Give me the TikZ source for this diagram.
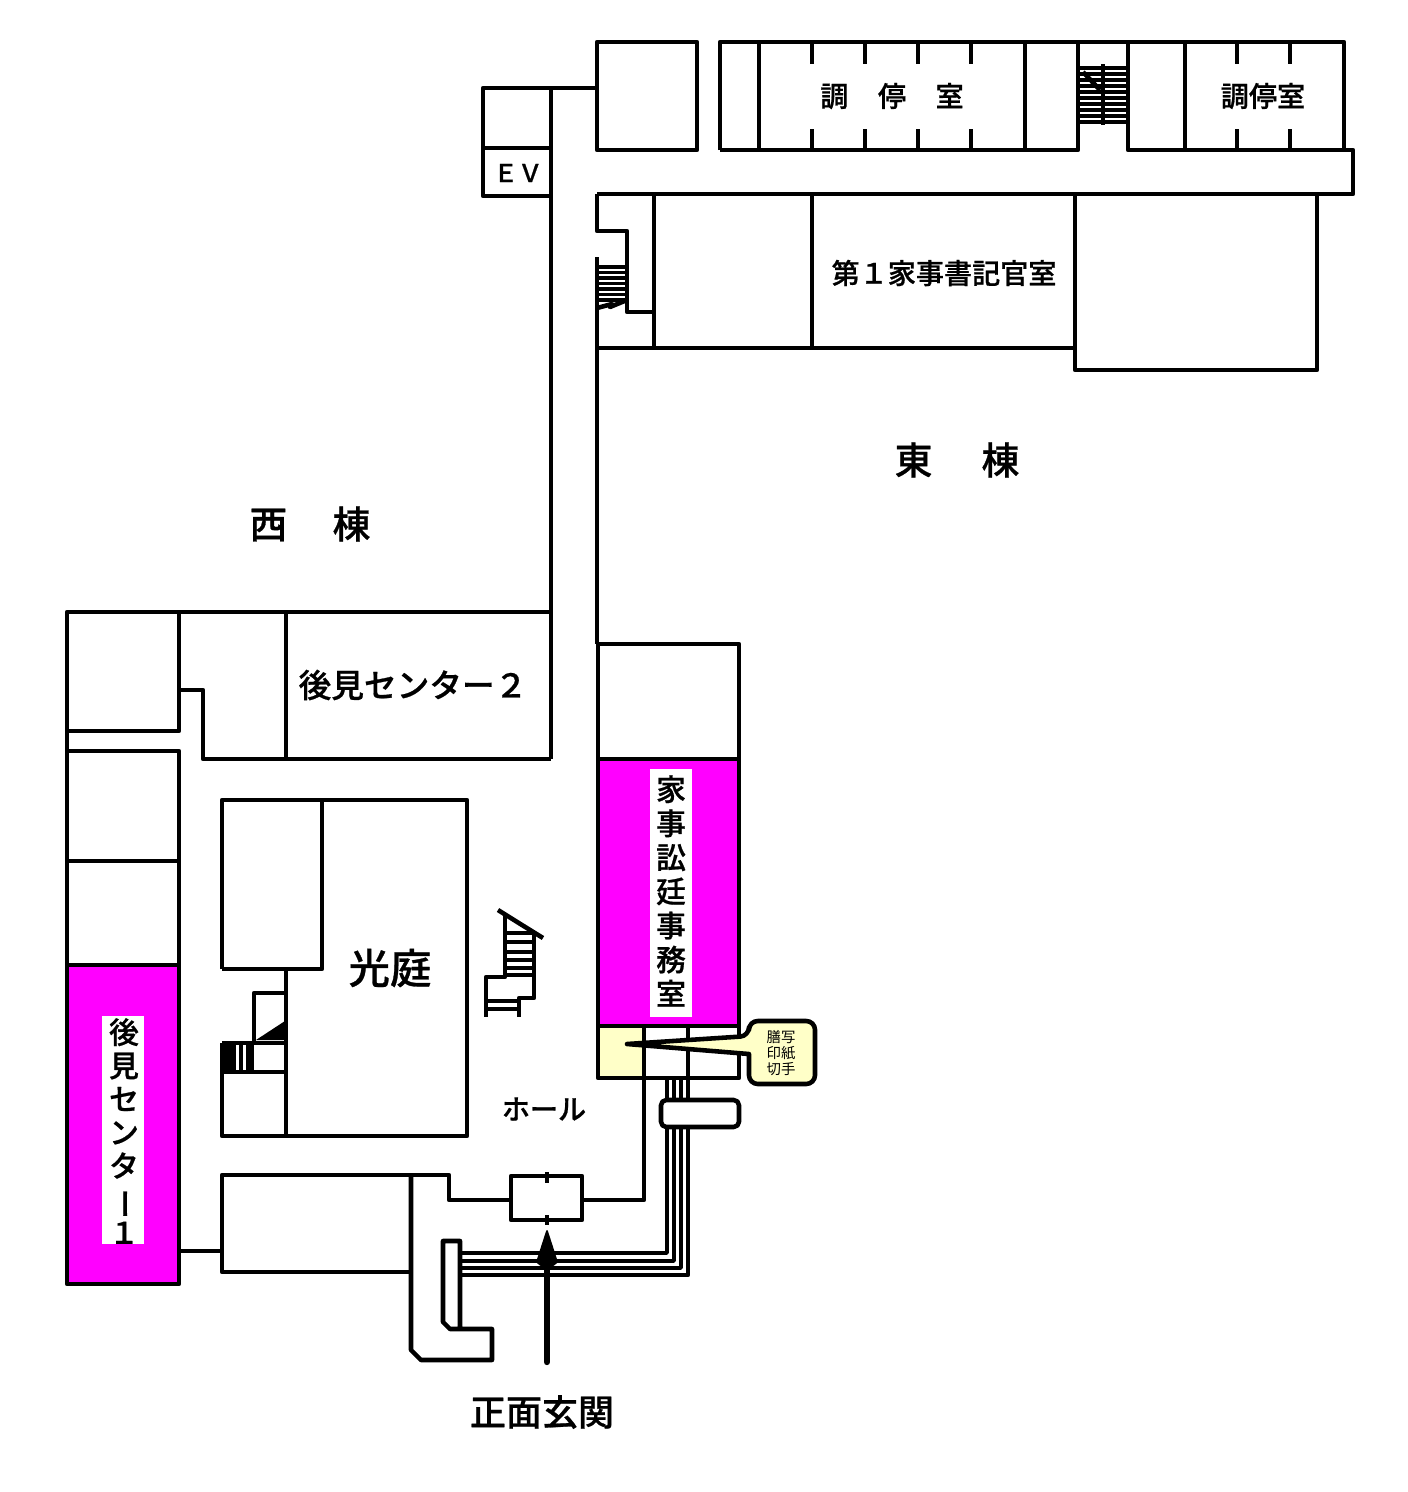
\documentclass[tikz,border=0pt]{standalone}
\usepackage{fontspec}
\newfontfamily\cjk{Noto Sans CJK JP}[BoldFont={Noto Sans CJK JP Medium},BoldFeatures={FakeBold=0.7}]
\definecolor{kamei}{HTML}{FF00FF}
\definecolor{cream}{HTML}{FFFFC8}
\tikzset{
  wall/.style={line width=2.6pt, line join=round},
  tread/.style={line width=1.9pt},
  thinwall/.style={line width=2pt, line join=round},
  lbl/.style={inner sep=0pt, font=\cjk\bfseries\fontsize{#1pt}{#1pt}\selectfont},
  lbl/.default=16,
}
\begin{document}
\begin{tikzpicture}[x=0.02cm, y=-0.02cm]
  \useasboundingbox (0,0) rectangle (1408,1492);
  % coloured rooms
  \fill[kamei] (67,965) rectangle (179,1284);
  \fill[kamei] (598,759) rectangle (739,1026);
  \fill[cream] (598,1026) rectangle (644,1078);
  \fill[white] (102,1016) rectangle (144,1244);
  \fill[white] (650,769) rectangle (692,1017);

  % east wing, upper rooms
  \draw[wall] (597,42) rectangle (697,150);
  \draw[wall] (720,150) -- (720,42) -- (1344,42) -- (1344,150);
  \draw[wall] (720,150) -- (1078,150) -- (1078,42);
  \draw[wall] (1128,42) -- (1128,150) -- (1353,150) -- (1353,194) -- (597,194);
  \foreach \x in {759,1025,1185}
    \draw[wall] (\x,42) -- (\x,150);
  \foreach \x in {812,865,918,971,1237,1290} {
    \draw[wall] (\x,42) -- (\x,64);
    \draw[wall] (\x,129) -- (\x,150);
  }
  % stairs, top
  \foreach \y in {68,74,...,122}
    \draw[line width=2.2pt] (1078,\y) -- (1128,\y);
  \draw[wall] (1103,64) -- (1103,125);
  \draw[wall] (1083,72) -- (1100,90);

  % east wing, lower rooms
  \draw[wall] (597,194) -- (597,231) -- (627,231) -- (627,312) -- (654,312);
  \draw[wall] (654,194) -- (654,348);
  \draw[wall] (812,194) -- (812,348);
  \draw[wall] (597,348) -- (1075,348);
  \draw[wall] (1075,194) -- (1075,370) -- (1317,370) -- (1317,194);
  \draw[wall] (597,257) -- (597,644);
  \foreach \y in {267,272.5,...,305}
    \draw[tread] (597,\y) -- (627,\y);
  \draw[wall] (597,308) -- (612,304) -- (610,307) -- (627,300);

  % EV
  \draw[wall] (551,88) -- (483,88) -- (483,196) -- (551,196);
  \draw[wall] (483,148) -- (551,148);
  \draw[wall] (551,88) -- (597,88);
  \draw[wall] (551,88) -- (551,759);

  % west wing
  \draw[wall] (551,612) -- (67,612) -- (67,1284) -- (179,1284) -- (179,751) -- (67,751);
  \draw[wall] (67,731) -- (179,731) -- (179,612);
  \draw[wall] (179,690) -- (203,690) -- (203,759) -- (551,759);
  \draw[wall] (286,612) -- (286,759);
  \draw[wall] (67,861) -- (179,861);
  \draw[wall] (67,965) -- (179,965);
  \draw[wall] (179,1251) -- (222,1251);
  \draw[wall] (222,1175) rectangle (411,1272);

  % court
  \draw[wall] (222,969) -- (222,800) -- (467,800) -- (467,1136) -- (222,1136) -- (222,1043);
  \draw[wall] (322,800) -- (322,969) -- (222,969);
  \draw[wall] (286,969) -- (286,1136);
  \draw[wall] (254,1043) -- (254,993) -- (286,993);
  \draw[wall] (222,1043) -- (286,1043);
  \draw[wall] (222,1072) -- (286,1072);
  \foreach \x in {225,228,231,234,241,248,252}
    \draw[tread] (\x,1043) -- (\x,1072);
  \fill (256,1040) -- (285,1021) -- (285,1040) -- cycle;

  % hall stairs
  \draw[wall] (498,910) -- (514,920) -- (522,925) -- (543,938);
  \draw[wall] (505,915) -- (505,977) -- (486,977) -- (486,1017);
  \draw[wall] (534,935) -- (534,998) -- (519,998) -- (519,1017);
  \foreach \y in {933,942,952,960,968,975}
    \draw[wall] (505,\y) -- (534,\y);
  \draw[wall] (486,1001) -- (519,1001);
  \draw[wall] (486,1009) -- (519,1009);

  % east block
  \draw[wall] (597,644) -- (739,644) -- (739,1078) -- (598,1078) -- (598,644);
  \draw[wall] (598,759) -- (739,759);
  \draw[wall] (598,1026) -- (739,1026);

  % entrance walls
  \draw[wall] (644,1026) -- (644,1200) -- (582,1200);
  \draw[wall] (511,1200) -- (449,1200) -- (449,1175) -- (411,1175);
  \draw[wall] (511,1176) rectangle (582,1220);
  \draw[wall] (411,1175) -- (411,1350) -- (421,1360) -- (492,1360) -- (492,1329)
    -- (460,1329) -- (460,1241) -- (443,1241) -- (443,1322) -- (450,1329) -- (460,1329);
  \draw[wall] (547,1172) -- (547,1183);
  \draw[wall] (547,1215) -- (547,1225);

  % steps of the ramp
  \draw[thinwall] (460,1253) -- (667,1253) -- (667,1078);
  \draw[thinwall] (460,1261) -- (674,1261) -- (674,1078);
  \draw[thinwall] (460,1268) -- (681,1268) -- (681,1078);
  \draw[wall] (460,1275) -- (688,1275) -- (688,1026);
  \draw[wall, fill=white, rounded corners=3pt] (661,1100) rectangle (739,1127);

  % entrance arrow
  \draw[line width=3.6pt, line cap=round] (547,1362) -- (547,1265);
  \fill[draw, line join=round, line width=1pt] (547,1231) -- (557,1262) -- (547,1270) -- (537,1262) -- cycle;

  % callout
  \draw[wall, fill=cream, rounded corners=5pt] (749,1021) -- (749,1036) [sharp corners] -- (627,1044) -- (749,1054)
    [rounded corners=5pt] -- (749,1084) -- (815,1084) -- (815,1021) -- cycle;
  \node[inner sep=0pt, font=\cjk\fontsize{8.2pt}{9.1pt}\selectfont, align=center] (stamps) at (781,1053) {膳写\\印紙\\切手};

  % labels
  \node[lbl] (mediation1) at (892,96) {調\hspace{1.05em}停\hspace{1.05em}室};
  \node[lbl] (mediation2) at (1263,96) {調停室};
  \node[lbl] (clerks) at (944,273) {第１家事書記官室};
  \node[lbl=14] (ev) at (518,173) {ＥＶ};
  \node[lbl=21.5] (east) at (957,460) {東\hspace{1.3em}棟};
  \node[lbl=21.5] (west) at (310,524) {西\hspace{1.2em}棟};
  \node[lbl=18.6] (center2) at (413,685) {後見センター２};
  \node[lbl=23.5] (court) at (390,968) {光庭};
  \node[lbl] (hall) at (544,1109) {ホール};
  \node[lbl=20.5] (entrance) at (542,1412) {正面玄関};
  \node[align=center, inner sep=0pt, font=\cjk\bfseries\fontsize{17pt}{19.4pt}\selectfont] (litigation) at (671,891)
    {家\\事\\訟\\廷\\事\\務\\室};
  \node[align=center, inner sep=0pt, font=\cjk\bfseries\fontsize{17pt}{19pt}\selectfont] (center1) at (124,1131)
    {後\\見\\セ\\ン\\タ\\\hspace*{.4em}\rotatebox[origin=c]{90}{ー}\\１};
\end{tikzpicture}
\end{document}
